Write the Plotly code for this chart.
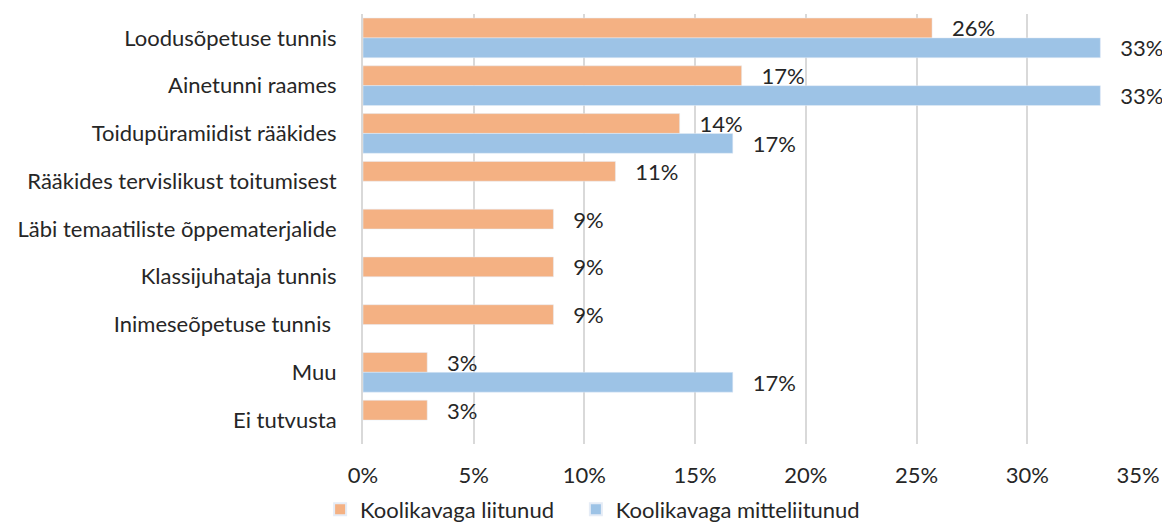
import plotly.graph_objects as go

categories = [
    "Loodusõpetuse tunnis",
    "Ainetunni raames",
    "Toidupüramiidist rääkides",
    "Rääkides tervislikust toitumisest",
    "Läbi temaatiliste õppematerjalide",
    "Klassijuhataja tunnis",
    "Inimeseõpetuse tunnis ",
    "Muu",
    "Ei tutvusta",
]
liitunud = [0.257, 0.171, 0.143, 0.114, 0.086, 0.086, 0.086, 0.029, 0.029]
mitteliitunud = [0.333, 0.333, 0.167, None, None, None, None, 0.167, None]
tick_vals = [0, 0.05, 0.10, 0.15, 0.20, 0.25, 0.30, 0.35]
tick_text = ["0%", "5%", "10%", "15%", "20%", "25%", "30%", "35%"]

font = "Lato, Carlito, Calibri, sans-serif"
txtcol = "#262626"
FS = 22

def labels(vals):
    return [None if v is None else "\u00a0\u00a0\u00a0" + f"{round(v*100)}%" for v in vals]

fig = go.Figure()
fig.add_trace(go.Bar(
    y=categories, x=liitunud, orientation="h", name="Koolikavaga liitunud\u00a0\u00a0\u00a0",
    marker=dict(color="#F4B183"), text=labels(liitunud), textposition="outside",
    constraintext="none",
    textfont=dict(size=FS, color=txtcol, family=font), cliponaxis=False,
))
fig.add_trace(go.Bar(
    y=categories, x=mitteliitunud, orientation="h", name="Koolikavaga mitteliitunud",
    marker=dict(color="#9DC3E6"), text=labels(mitteliitunud), textposition="outside",
    constraintext="none",
    textfont=dict(size=FS, color=txtcol, family=font), cliponaxis=False,
))

fig.update_layout(
    width=1162, height=524,
    margin=dict(l=363, r=24, t=14, b=80, autoexpand=False),
    barmode="group", bargap=0.17, bargroupgap=0,
    plot_bgcolor="white", paper_bgcolor="white",
    font=dict(family=font, size=FS, color=txtcol),
    xaxis=dict(range=[0, 0.35], tickvals=tick_vals, ticktext=tick_text,
               showgrid=True, gridcolor="#D9D9D9", gridwidth=2, zeroline=False,
               ticks="", ticklabelstandoff=16, tickfont=dict(size=FS), automargin=False),
    yaxis=dict(autorange="reversed", showline=True, linecolor="#D9D9D9", linewidth=2,
               ticks="", ticklabelstandoff=20, tickfont=dict(size=FS), automargin=False),
    legend=dict(orientation="h", xref="container", x=0.51, xanchor="center",
                yref="paper", y=-0.152, yanchor="middle", font=dict(size=FS),
                itemsizing="constant", traceorder="normal", itemwidth=30),
    showlegend=True,
)

fig.write_html(
    "out.html",
    config={"displayModeBar": False},
    post_script="document.body.style.margin='0';document.body.style.overflow='hidden';",
)
